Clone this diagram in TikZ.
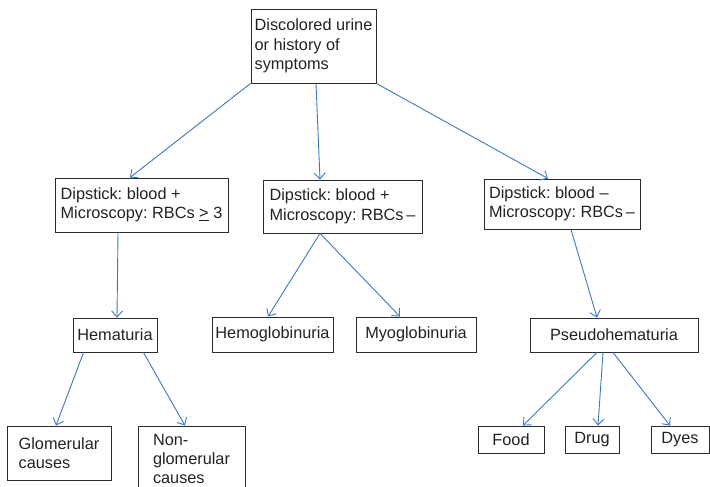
\documentclass[tikz,border=0pt]{standalone}
\usepackage{fontspec}
\setmainfont{Liberation Sans}
\usetikzlibrary{arrows.meta}
\definecolor{lnblue}{HTML}{3A78C2}
\definecolor{bx}{HTML}{2B2B2B}
\definecolor{tx}{HTML}{222222}
\frenchspacing
\begin{document}
\begin{tikzpicture}[x=1pt,y=-1pt,
  box/.style={draw=bx, line width=0.9pt, inner sep=0pt, align=left,
    font=\fontsize{16.3}{19.5}\selectfont, text=tx},
  conn/.style={draw=lnblue, line width=0.9pt, -{Straight Barb[length=6pt,width=11pt]}}]
\useasboundingbox (0,0) rectangle (710,487);
\clip (0,0) rectangle (710,487);
\node[box, minimum width=125pt, minimum height=74pt] (top) at (313.5,46) {Discolored urine\\or history of\\symptoms};
\node[box, minimum width=173pt, minimum height=54pt] (A) at (141.5,205) {Dipstick: blood +\\Microscopy: RBCs \underline{>} 3};
\node[box, minimum width=159pt, minimum height=53pt] (B) at (342.5,206.5) {Dipstick: blood +\\Microscopy: RBCs\,--};
\node[box, minimum width=156pt, minimum height=50pt] (C) at (562,204) {Dipstick: blood --\\Microscopy: RBCs\,--};
\node[box, minimum width=84pt, minimum height=34pt] (hem) at (115,335) {Hematuria};
\node[box, minimum width=121pt, minimum height=35pt] (hgb) at (272.5,334.5) {Hemoglobinuria};
\node[box, minimum width=120pt, minimum height=35pt] (myo) at (416,334.5) {Myoglobinuria};
\node[box, minimum width=168pt, minimum height=34pt] (pse) at (614,335) {Pseudohematuria};
\node[box, minimum width=66pt, minimum height=27pt] (food) at (511,439.5) {Food};
\node[box, minimum width=54pt, minimum height=27pt] (drug) at (592,439.5) {Drug};
\node[box, minimum width=58pt, minimum height=27pt] (dyes) at (680,439.5) {Dyes};
\node[box, minimum width=104pt, minimum height=54pt] (glo) at (59,453) {Glomerular\\causes};
\node[box, minimum width=107pt, minimum height=66pt, font=\fontsize{16.3}{19}\selectfont] (ngl) at (191.5,459) {Non-\\glomerular\\causes};
\draw[conn] (top.south west) -- ([xshift=-11.5pt]A.north);
\draw[conn] ([xshift=2.5pt]top.south) -- ([xshift=-22.5pt]B.north);
\draw[conn] (top.south east) -- ([xshift=-14pt]C.north);
\draw[conn] ([xshift=-23.5pt]A.south) -- ([xshift=2pt]hem.north);
\draw[conn] ([xshift=-22.5pt]B.south) -- ([xshift=-4.5pt]hgb.north);
\draw[conn] ([xshift=-22.5pt]B.south) -- ([xshift=-16pt]myo.north);
\draw[conn] ([xshift=9pt]C.south) -- ([xshift=-17pt]pse.north);
\draw[conn] ([xshift=11pt]hem.south west) -- ([xshift=-3pt]glo.north);
\draw[conn] ([xshift=-14pt]hem.south east) -- ([xshift=-6.5pt]ngl.north);
\draw[conn] ([xshift=-17pt]pse.south) -- ([xshift=12pt]food.north);
\draw[conn] ([xshift=-11pt]pse.south) -- ([xshift=6pt]drug.north);
\draw[conn] ([xshift=-1pt]pse.south) -- ([xshift=-10pt]dyes.north);
\end{tikzpicture}
\end{document}
